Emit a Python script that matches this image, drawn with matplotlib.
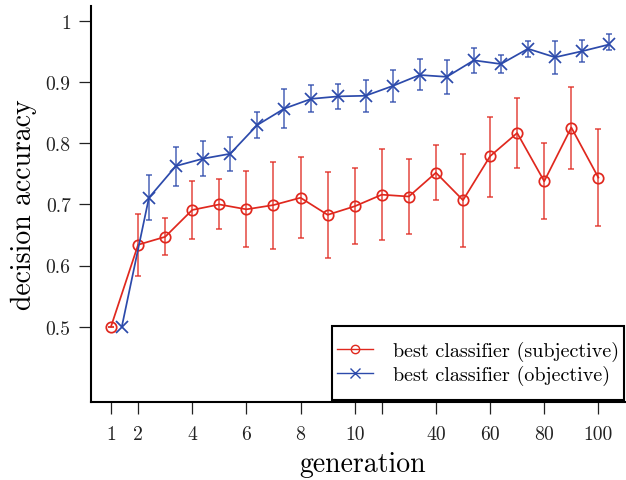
import matplotlib
matplotlib.use("Agg")
import matplotlib.pyplot as plt
from matplotlib.lines import Line2D
from matplotlib.patches import Rectangle
import numpy as np

plt.rcParams['font.family'] = ['cmr10', 'DejaVu Serif']
plt.rcParams['axes.unicode_minus'] = False
plt.rcParams['mathtext.fontset'] = 'cm'

# ---- data ----
generations = [1, 2, 3, 4, 5, 6, 7, 8, 9, 10, 20, 30, 40, 50, 60, 70, 80, 90, 100]
subj_mean = [0.500, 0.634, 0.647, 0.691, 0.700, 0.692, 0.699, 0.711, 0.683, 0.697,
             0.716, 0.713, 0.752, 0.707, 0.779, 0.817, 0.738, 0.826, 0.744]
subj_upper = [0.500, 0.684, 0.677, 0.738, 0.742, 0.754, 0.770, 0.777, 0.753, 0.759,
              0.790, 0.775, 0.797, 0.783, 0.843, 0.875, 0.801, 0.892, 0.823]
subj_lower = [0.500, 0.583, 0.617, 0.643, 0.659, 0.630, 0.627, 0.645, 0.612, 0.635,
              0.642, 0.652, 0.707, 0.630, 0.713, 0.759, 0.676, 0.758, 0.664]
obj_mean = [0.500, 0.711, 0.763, 0.775, 0.783, 0.830, 0.857, 0.873, 0.877, 0.878,
            0.894, 0.912, 0.909, 0.936, 0.930, 0.955, 0.941, 0.951, 0.962]
obj_upper = [0.500, 0.749, 0.794, 0.804, 0.810, 0.851, 0.889, 0.895, 0.898, 0.904,
             0.921, 0.938, 0.936, 0.957, 0.944, 0.968, 0.968, 0.970, 0.979]
obj_lower = [0.500, 0.675, 0.730, 0.746, 0.755, 0.809, 0.825, 0.851, 0.857, 0.852,
             0.868, 0.887, 0.881, 0.915, 0.915, 0.941, 0.913, 0.933, 0.953]
xtick_gens = [1, 2, 4, 6, 8, 10, 20, 40, 60, 80, 100]
xtick_labels = ['1', '2', '4', '6', '8', '10', '', '40', '60', '80', '100']
yticks = [0.5, 0.6, 0.7, 0.8, 0.9, 1.0]
ytick_labels = ['0.5', '0.6', '0.7', '0.8', '0.9', '1']
legend_labels = ['best classifier (subjective)', 'best classifier (objective)']

RED = '#e0281e'
BLUE = '#2c4aab'

fig = plt.figure(figsize=(6.26, 4.81), dpi=100)
ax = fig.add_axes([91/626, 1 - 403.3/481, 1 - 91/626, (403.3 - 7)/481])

pos = np.arange(len(generations))
offset = 0.4

sm = np.array(subj_mean); om = np.array(obj_mean)
s_err = [sm - np.array(subj_lower), np.array(subj_upper) - sm]
o_err = [om - np.array(obj_lower), np.array(obj_upper) - om]

# error bars
ax.errorbar(pos, sm, yerr=s_err, fmt='none', ecolor=RED, elinewidth=1.1,
            capsize=2.5, capthick=1.1, alpha=0.85, zorder=2)
ax.errorbar(pos[1:] + offset, om[1:], yerr=[o_err[0][1:], o_err[1][1:]], fmt='none',
            ecolor=BLUE, elinewidth=1.1, capsize=2.5, capthick=1.1, alpha=0.85, zorder=2)

ax.plot(pos, sm, color=RED, lw=1.25, marker='o', ms=7.5, mfc='none', mec=RED,
        mew=1.25, zorder=3)
ax.plot(pos + offset, om, color=BLUE, lw=1.25, marker='x', ms=8.5, mec=BLUE,
        mew=1.25, zorder=3)

ax.set_xlim(-0.739, 19.02)
ax.set_ylim(0.376, 1.025)

tick_pos = [generations.index(g) for g in xtick_gens]
ax.set_xticks(tick_pos)
ax.set_xticklabels(xtick_labels)
ax.set_yticks(yticks)
ax.set_yticklabels(ytick_labels)

for s in ['top', 'right']:
    ax.spines[s].set_visible(False)
for s in ['left', 'bottom']:
    ax.spines[s].set_linewidth(1.5)
ax.tick_params(axis='both', direction='out', length=8.6, width=0.9,
               labelsize=14.2, colors='#222222')
ax.tick_params(axis='x', pad=8)
ax.tick_params(axis='y', pad=6)

ax.set_xlabel('generation', fontsize=20)
ax.set_ylabel('decision accuracy', fontsize=20)
ax.xaxis.set_label_coords((362.6 - 91) / 535, -(452 - 403.3) / 396.3)
ax.yaxis.set_label_coords(-(91 - 37) / 535, 0.5 + 0.0)

# legend
handles = [Line2D([], [], color=RED, lw=1.0, marker='o', ms=6, mfc='none', mec=RED, mew=1.0),
           Line2D([], [], color=BLUE, lw=1.0, marker='x', ms=7, mec=BLUE, mew=1.0)]
leg = ax.legend(handles, legend_labels, loc='center left', frameon=False,
                bbox_to_anchor=((332 - 91) / 535 + 0.0, 1 - (364 - 7) / 396.3),
                fontsize=14.5, handlelength=1.8, handletextpad=1.0,
                labelspacing=0.22, borderpad=0.25, borderaxespad=0.0, numpoints=1)
leg.set_zorder(6)
rect = Rectangle((332 / 626, 1 - 401 / 481), (624 - 332) / 626, (401 - 327) / 481,
                 transform=fig.transFigure, fill=True, facecolor='white',
                 edgecolor='black', lw=1.5, zorder=5, clip_on=False)
ax.add_patch(rect)

fig.savefig('out.png', dpi=100)
